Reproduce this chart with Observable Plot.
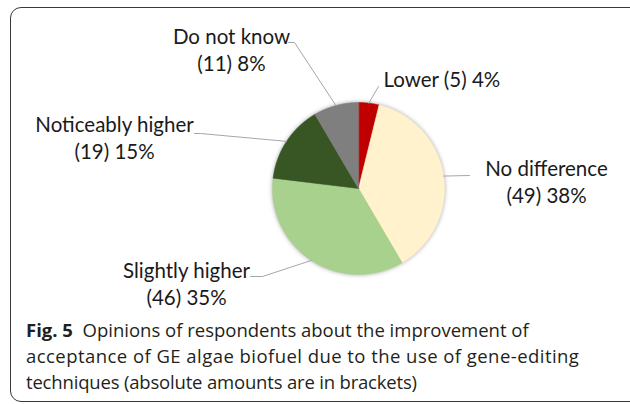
<!DOCTYPE html>
<html>
<head>
<meta charset="utf-8">
<script src="https://cdn.jsdelivr.net/npm/d3@7"></script>
<script src="https://cdn.jsdelivr.net/npm/@observablehq/plot@0.6"></script>
<style>
  body { margin: 0; background: #fff; }
  #wrap { position: relative; width: 630px; height: 404px; overflow: hidden; background: #fff; }
  #frame { position: absolute; left: 10px; top: 7px; width: 700px; height: 395px; border: 1.3px solid #3a3a3a; border-radius: 11px; box-sizing: border-box; }
  #chart { position: absolute; left: 0; top: 0; }
  #caption { position: absolute; left: 26px; top: 317px; width: 600px; font-family: "Open Sans", sans-serif; font-size: 18.5px; line-height: 26px; color: #231f20; white-space: nowrap; }
  #caption b { font-weight: 700; }
  #caption .l2 { letter-spacing: 0.45px; }
  #caption .l3 { letter-spacing: -0.18px; }
</style>
</head>
<body>
<div id="wrap">
  <div id="frame"></div>
  <div id="chart"></div>
  <div id="caption"><b>Fig. 5</b>&nbsp; Opinions of respondents about the improvement of<br><span class="l2">acceptance of GE algae biofuel due to the use of gene-editing</span><br><span class="l3">techniques (absolute amounts are in brackets)</span></div>
</div>
<script>
// ---- data ----
const categories = ["Lower", "No difference", "Slightly higher", "Noticeably higher", "Do not know"];
const counts = [5, 49, 46, 19, 11];
const percents = [4, 38, 35, 15, 8];
const colors = ["#C00000", "#FFF2CC", "#A9D18E", "#375623", "#7F7F7F"];

// ---- layout (pixel units relative to the pie centre) ----
const W = 630, H = 310, CX = 358, CY = 188, R = 86;
const lineGap = 27;
const labelLayout = {
  "Lower":             {x: 383, y: 86,  anchor: "start",  oneLine: true, elbow: [[378, 86]]},
  "No difference":     {x: 546, y: 175, anchor: "middle", elbow: [[469, 175]]},
  "Slightly higher":   {x: 186, y: 277, anchor: "middle", elbow: [[262, 276], [250, 276]]},
  "Noticeably higher": {x: 114, y: 131, anchor: "middle", elbow: [[200, 133], [194, 133]]},
  "Do not know":       {x: 231, y: 43,  anchor: "middle", elbow: [[294, 42], [288, 42]]}
};

const data = categories.map((c, i) => ({category: c, count: counts[i], pct: percents[i]}));
const arcs = d3.pie().sort(null).value(d => d.count)(data);

// slice polygons
const slicePts = [];
for (const a of arcs) {
  const key = a.data.category;
  slicePts.push({key, x: 0, y: 0});
  const n = Math.max(2, Math.ceil((a.endAngle - a.startAngle) / (Math.PI / 360)));
  for (let k = 0; k <= n; k++) {
    const t = a.startAngle + (a.endAngle - a.startAngle) * k / n;
    slicePts.push({key, x: R * Math.sin(t), y: -R * Math.cos(t)});
  }
}

// leader lines
const leaderPts = [];
for (const a of arcs) {
  const key = a.data.category;
  const m = (a.startAngle + a.endAngle) / 2;
  leaderPts.push({key, x: R * Math.sin(m), y: -R * Math.cos(m)});
  for (const [px, py] of labelLayout[key].elbow) leaderPts.push({key, x: px - CX, y: py - CY});
}

// label rows
const labelRows = [];
for (const d of data) {
  const L = labelLayout[d.category];
  if (L.oneLine) {
    labelRows.push({text: `${d.category} (${d.count}) ${d.pct}%`, x: L.x - CX, y: L.y - CY, anchor: L.anchor});
  } else {
    labelRows.push({text: d.category, x: L.x - CX, y: L.y - CY, anchor: L.anchor});
    labelRows.push({text: `(${d.count}) ${d.pct}%`, x: L.x - CX, y: L.y + lineGap - CY, anchor: L.anchor});
  }
}

const labelFont = {fontFamily: "Lato", fontSize: 20.5, fill: "#1a1a1a", lineAnchor: "bottom"};

const chart = Plot.plot({
  width: W, height: H,
  margin: 0,
  x: {domain: [-CX, W - CX], range: [0, W], axis: null},
  y: {domain: [-CY, H - CY], range: [0, H], axis: null},
  color: {domain: categories, range: colors},
  style: {background: "transparent", overflow: "visible"},
  marks: [
    Plot.line(slicePts, {x: "x", y: "y", z: "key", fill: "key", stroke: "key", strokeWidth: 0.5, curve: "linear-closed",
      imageFilter: "drop-shadow(0px 0px 2px rgba(0,0,0,0.35))"}),
    Plot.line(leaderPts, {x: "x", y: "y", z: "key", stroke: "#a6a6a6", strokeWidth: 1}),
    Plot.text(labelRows.filter(d => d.anchor === "middle"), {x: "x", y: "y", text: "text", textAnchor: "middle", ...labelFont}),
    Plot.text(labelRows.filter(d => d.anchor === "start"), {x: "x", y: "y", text: "text", textAnchor: "start", ...labelFont})
  ]
});
document.getElementById("chart").appendChild(chart);
</script>
</body>
</html>
